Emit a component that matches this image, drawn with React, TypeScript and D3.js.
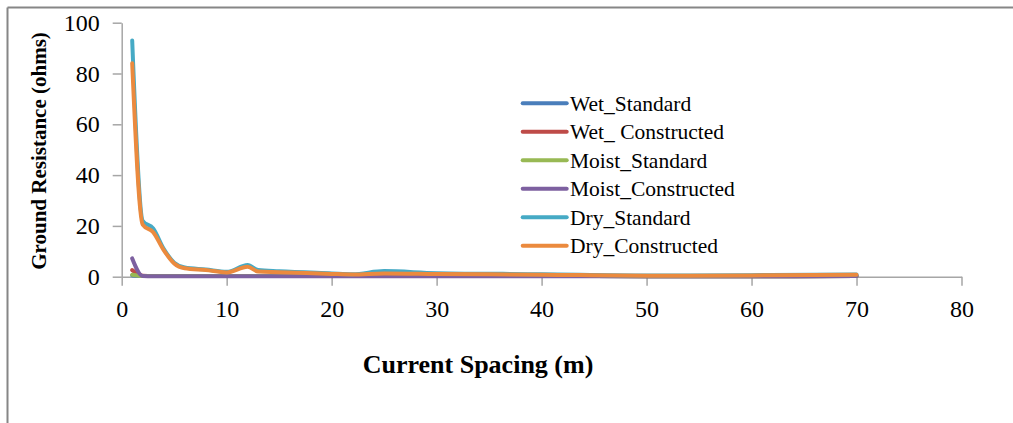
import React, { useEffect, useRef } from 'react';
import * as d3 from 'd3';

// current spacing (m)
const spacing = [1, 2, 3, 4, 5, 6, 8, 10, 12, 13, 15, 20, 22, 25, 30, 40, 50, 60, 70];

const wetStandard = [0.5, 0.3, 0.3, 0.3, 0.3, 0.3, 0.3, 0.3, 0.3, 0.3, 0.3, 0.3, 0.3, 0.3, 0.3, 0.3, 0.2, 0.2, 0.3];
const wetConstructed = [2.6, 0.4, 0.3, 0.3, 0.3, 0.3, 0.3, 0.3, 0.3, 0.3, 0.3, 0.3, 0.3, 0.3, 0.3, 0.3, 0.2, 0.2, 0.3];
const moistStandard = [0.8, 0.3, 0.3, 0.3, 0.3, 0.3, 0.3, 0.3, 0.3, 0.3, 0.3, 0.3, 0.3, 0.3, 0.3, 0.3, 0.2, 0.2, 0.3];
const moistConstructed = [7.2, 0.3, 0.2, 0.2, 0.2, 0.2, 0.2, 0.2, 0.2, 0.2, 0.2, 0.2, 0.2, 0.2, 0.2, 0.2, 0.2, 0.2, 0.3];
const dryStandard = [93, 22, 19, 11, 5.5, 3.6, 2.8, 1.9, 4.6, 2.6, 2.1, 1.3, 1.0, 2.2, 1.4, 1.0, 0.5, 0.6, 0.9];
const dryConstructed = [84, 20.5, 17.5, 10.5, 5.2, 3.3, 2.6, 1.7, 3.9, 2.0, 1.8, 1.1, 0.9, 1.3, 1.1, 0.8, 0.4, 0.5, 0.8];

const seriesNames = ['Wet_Standard', 'Wet_ Constructed', 'Moist_Standard', 'Moist_Constructed', 'Dry_Standard', 'Dry_Constructed'];
const seriesValues = [wetStandard, wetConstructed, moistStandard, moistConstructed, dryStandard, dryConstructed];
const colors = ['#4A7EBB', '#BE4B48', '#98B954', '#7D60A0', '#46AAC5', '#EB8A3E'];

const xTicks = [0, 10, 20, 30, 40, 50, 60, 70, 80];
const yTicks = [0, 20, 40, 60, 80, 100];

const W = 1013, H = 423;
const font = "'Liberation Serif'";

export default function App() {
  const axRef = useRef<SVGGElement>(null);

  const x = d3.scaleLinear().domain([0, 80]).range([121.7, 961.5]);
  const y = d3.scaleLinear().domain([0, 100]).range([276.7, 22.7]);

  useEffect(() => {
    const g = d3.select(axRef.current);
    g.selectAll('*').remove();
    const xa = g.append('g').attr('transform', `translate(0,${y(0)})`)
      .call(d3.axisBottom(x).tickValues(xTicks).tickSize(9).tickSizeOuter(0).tickPadding(14));
    const ya = g.append('g').attr('transform', `translate(${x(0)},0)`)
      .call(d3.axisLeft(y).tickValues(yTicks).tickSize(9).tickSizeOuter(0).tickPadding(13));
    [xa, ya].forEach(a => {
      a.attr('font-family', null).attr('font-size', null);
      a.selectAll('path,line').attr('stroke', '#A6A6A6').attr('stroke-width', 1.5);
      a.selectAll('text').style('font-family', font).style('font-size', '24px').attr('fill', '#000');
    });
  }, []);

  const line = d3.line<number>()
    .x((_, i) => x(spacing[i]))
    .y(d => y(d))
    .curve(d3.curveMonotoneX);

  return (
    <svg width={W} height={H} style={{ position: 'absolute', left: 0, top: 0, background: '#fff' }}>
      <line x1={7.5} y1={7.5} x2={W} y2={7.5} stroke="#868686" strokeWidth={2} />
      <line x1={7.5} y1={7.5} x2={7.5} y2={H} stroke="#868686" strokeWidth={2} />
      <g ref={axRef} />
      {seriesValues.map((vals, i) => (
        <path key={seriesNames[i]} d={line(vals) || ''} fill="none" stroke={colors[i]}
          strokeWidth={4} strokeLinejoin="round" strokeLinecap="round" />
      ))}
      {seriesNames.map((n, i) => (
        <g key={n} transform={`translate(0,${103.3 + i * 28.5})`}>
          <line x1={522.7} x2={566.7} y1={0} y2={0} stroke={colors[i]} strokeWidth={4} strokeLinecap="round" />
          <text x={570} y={0} dy="0.34em" style={{ fontFamily: font, fontSize: '21.5px' }}>{n}</text>
        </g>
      ))}
      <text x={478} y={373} textAnchor="middle" style={{ fontFamily: font, fontWeight: 'bold', fontSize: '26px' }}>
        Current Spacing (m)
      </text>
      <text transform="translate(46,151) rotate(-90)" textAnchor="middle"
        style={{ fontFamily: font, fontWeight: 'bold', fontSize: '21px' }}>
        Ground Resistance (ohms)
      </text>
    </svg>
  );
}
